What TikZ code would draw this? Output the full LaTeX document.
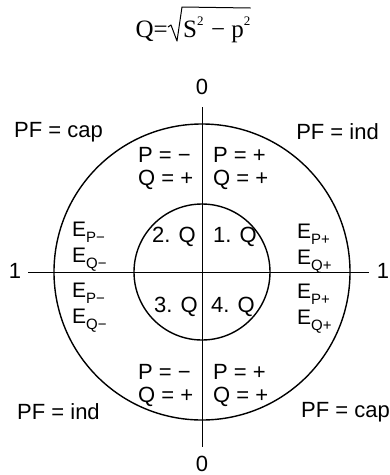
\documentclass[tikz,border=0pt]{standalone}
\usepackage{fontspec}
\setmainfont{Liberation Sans}
\newfontfamily\tmsfont{Liberation Serif}
\newcommand{\Esub}[1]{E\raisebox{-0.3em}{\fontsize{15}{15}\selectfont #1}}
\begin{document}
\begin{tikzpicture}[x=1pt,y=-1pt,
  lbl/.style={inner sep=0pt, font=\fontsize{22}{26}\selectfont},
  elbl/.style={inner sep=0pt, anchor=west, font=\fontsize{21}{24}\selectfont},
  ring/.style={circle, draw, line width=1.4pt, inner sep=0pt},
  axis/.style={line width=0.9pt}]
\useasboundingbox (0,0) rectangle (390,475);
% formula
\node[inner sep=0pt, anchor=base east, font=\tmsfont\fontsize{25}{28}\selectfont] (fq) at (168,37) {Q=};
\node[inner sep=0pt, anchor=base west, font=\tmsfont\fontsize{25}{28}\selectfont] (fs) at (183,37) {S\raisebox{0.45em}{\fontsize{13}{13}\selectfont 2}\hspace{0.3em}− p\raisebox{0.45em}{\fontsize{13}{13}\selectfont 2}};
\draw[line width=1pt, line join=round] (fq.base east) ++(0,-10) -- ++(3,-2) -- ++(6,16) -- ++(5,-34) -- (fs.east |- 0,8);
% circles
\coordinate (c) at (202,272);
\node[ring, minimum size=296pt] (outer) at (c) {};
\node[ring, minimum size=136pt] (inner) at (c) {};
% axis labels
\node[lbl] (ztop) at (202,87) {0};
\node[lbl] (zbot) at (202,464) {0};
\node[lbl] (oleft) at (15,271) {1};
\node[lbl] (oright) at (383,271) {1};
\coordinate (hl) at (28,272);
\coordinate (hr) at (369,272);
\coordinate (vt) at (202,107);
\coordinate (vb) at (202,447);
\draw[axis] (hl) -- (hr);
\draw[axis] (vt) -- (vb);
% PF labels
\node[lbl, anchor=west] (pftl) at (14,132) {PF = cap};
\node[lbl, anchor=east] (pftr) at (379,132) {PF = ind};
\node[lbl, anchor=west] (pfbl) at (17,412) {PF = ind};
\node[lbl, anchor=east] (pfbr) at (390,412) {PF = cap};
% P Q labels
\node[lbl, anchor=west] (p1) at (138,155) {P = −};
\node[lbl, anchor=west] (q1) at (138,180) {Q = +};
\node[lbl, anchor=west] (p2) at (213,155) {P = +};
\node[lbl, anchor=west] (q2) at (213,180) {Q = +};
\node[lbl, anchor=west] (p3) at (138,372) {P = −};
\node[lbl, anchor=west] (q3) at (138,397) {Q = +};
\node[lbl, anchor=west] (p4) at (213,372) {P = +};
\node[lbl, anchor=west] (q4) at (213,397) {Q = +};
% quadrants
\node[lbl, anchor=west] (k2) at (152,237) {2. Q};
\node[lbl, anchor=west] (k1) at (213,237) {1. Q};
\node[lbl, anchor=west] (k3) at (154,307) {3. Q};
\node[lbl, anchor=west] (k4) at (211,307) {4. Q};
% E labels
\node[elbl, anchor=base west] (e1) at (72,236) {\Esub{P−}};
\node[elbl, anchor=base west] (e2) at (72,262) {\Esub{Q−}};
\node[elbl, anchor=base west] (e3) at (72,297) {\Esub{P−}};
\node[elbl, anchor=base west] (e4) at (72,323) {\Esub{Q−}};
\node[elbl, anchor=base west] (e5) at (297,238) {\Esub{P+}};
\node[elbl, anchor=base west] (e6) at (297,264) {\Esub{Q+}};
\node[elbl, anchor=base west] (e7) at (297,298) {\Esub{P+}};
\node[elbl, anchor=base west] (e8) at (297,324) {\Esub{Q+}};
\end{tikzpicture}
\end{document}
